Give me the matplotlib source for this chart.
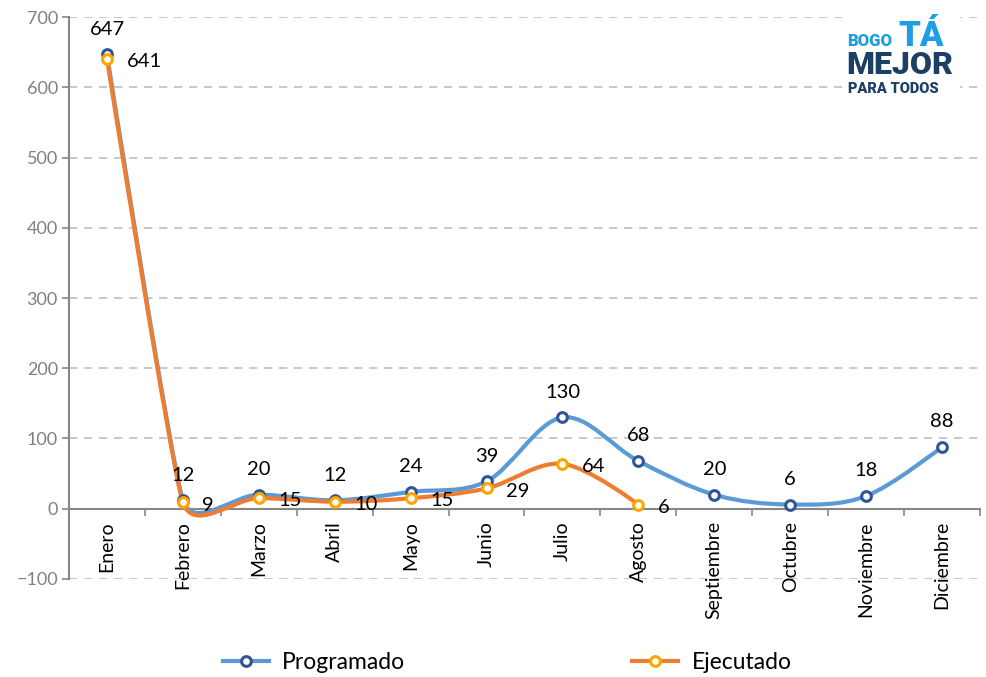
import numpy as np
import matplotlib.pyplot as plt
from matplotlib.path import Path
from matplotlib.patches import PathPatch, Rectangle
from matplotlib.lines import Line2D

plt.rcParams['font.family'] = ['Lato', 'DejaVu Sans']

# Data
meses = ['Enero', 'Febrero', 'Marzo', 'Abril', 'Mayo', 'Junio', 'Julio',
         'Agosto', 'Septiembre', 'Octubre', 'Noviembre', 'Diciembre']
programado = [647, 12, 20, 12, 24, 39, 130, 68, 20, 6, 18, 88]
ejecutado = [641, 9, 15, 10, 15, 29, 64, 6]

BLUE_LINE = '#5B9BD5'
BLUE_MARK = '#2F5597'
ORANGE_LINE = '#ED7D31'
ORANGE_MARK = '#FFA500'
GRAY = '#868686'


def smooth_path(ax, xs, ys):
    """Excel-like smoothed line as a cubic bezier path (computed in display space)"""
    pts = ax.transData.transform(np.column_stack([xs, ys]))
    n = len(pts)
    verts = [pts[0]]
    codes = [Path.MOVETO]
    for i in range(n - 1):
        p0 = pts[i - 1] if i > 0 else pts[i]
        p1 = pts[i]
        p2 = pts[i + 1]
        p3 = pts[i + 2] if i + 2 < n else pts[i + 1]
        d01 = np.linalg.norm(p1 - p0)
        d12 = np.linalg.norm(p2 - p1)
        d23 = np.linalg.norm(p3 - p2)
        # catmull-rom tangents, shortened next to a much longer neighbour segment
        f1 = min(1 / 6, 0.5 * min(d01, d12) / (d01 + d12)) if d01 > 0 else 0
        f2 = min(1 / 6, 0.5 * min(d12, d23) / (d12 + d23)) if d23 > 0 else 0
        c1 = p1 + f1 * (p2 - p0)
        c2 = p2 - f2 * (p3 - p1)
        verts += [c1, c2, p2]
        codes += [Path.CURVE4] * 3
    verts = ax.transData.inverted().transform(np.array(verts))
    return Path(verts, codes)


fig = plt.figure(figsize=(9.87, 6.77), dpi=100)
ax = fig.add_axes([0.0699, 0.1448, 0.923, 0.830])

ax.set_xlim(-0.5, len(meses) - 0.5)
ax.set_ylim(-100, 700)

x_prog = np.arange(len(programado))
x_ejec = np.arange(len(ejecutado))

for xs, ys, lc in [(x_prog, programado, BLUE_LINE), (x_ejec, ejecutado, ORANGE_LINE)]:
    patch = PathPatch(smooth_path(ax, xs, ys), facecolor='none', edgecolor=lc,
                      lw=3, capstyle='round', joinstyle='round', zorder=3)
    ax.add_patch(patch)

ax.plot(x_prog, programado, ls='none', marker='o', ms=7, mfc='white',
        mec=BLUE_MARK, mew=2.2, zorder=4)
ax.plot(x_ejec, ejecutado, ls='none', marker='o', ms=7, mfc='white',
        mec=ORANGE_MARK, mew=2.2, zorder=5)

# data labels
for x, v in zip(x_prog, programado):
    ax.annotate(str(v), (x, v), xytext=(0, 12), textcoords='offset points',
                ha='center', va='bottom', fontsize=14.5, color='black', zorder=6)
for x, v in zip(x_ejec, ejecutado):
    ax.annotate(str(v), (x, v), xytext=(14, -2), textcoords='offset points',
                ha='left', va='center', fontsize=14.5, color='black', zorder=6)

# axes styling
ax.set_yticks(np.arange(-100, 701, 100))
ax.tick_params(axis='y', colors=GRAY, labelcolor='#808080', labelsize=13,
               length=5, width=1.2, pad=3)
ax.yaxis.grid(True, ls=(0, (5, 4)), color='#BFBFBF', lw=1.2)
ax.set_axisbelow(True)

ax.spines['bottom'].set_position(('data', 0))
for s in ['top', 'right']:
    ax.spines[s].set_visible(False)
for s in ['left', 'bottom']:
    ax.spines[s].set_color(GRAY)
    ax.spines[s].set_linewidth(1.5)

ax.set_xticks(x_prog)
ax.set_xticklabels(meses, rotation=90, fontsize=14, va='top', ha='center')
ax.set_xticks(np.arange(-0.5, len(meses)), minor=True)
ax.tick_params(axis='x', which='major', length=0, pad=9, colors='black')
ax.tick_params(axis='x', which='minor', length=5, width=1.2, color=GRAY,
               direction='out')

# legend
handles = [
    Line2D([], [], color=BLUE_LINE, lw=3, marker='o', ms=7, mfc='white',
           mec=BLUE_MARK, mew=2.2),
    Line2D([], [], color=ORANGE_LINE, lw=3, marker='o', ms=7, mfc='white',
           mec=ORANGE_MARK, mew=2.2),
]
fig.legend(handles, ['Programado', 'Ejecutado'], loc='center',
           bbox_to_anchor=(0.514, 0.021), ncol=2, frameon=False, fontsize=16.5,
           handlelength=2.0, handletextpad=0.6, columnspacing=9.9)

# logo
fig.patches.append(Rectangle((0.853, 0.858), 0.12, 0.127, transform=fig.transFigure,
                             facecolor='white', edgecolor='none', zorder=5))
logo = dict(family=['Roboto', 'DejaVu Sans'], fontweight='heavy', ha='left',
            va='baseline', zorder=6)
fig.text(0.858, 0.932, 'BOGO', fontsize=12, color='#1E9FE3', **logo)
fig.text(0.910, 0.932, 'TÁ', fontsize=25, color='#1E9FE3', **logo)
fig.text(0.857, 0.891, 'MEJOR', fontsize=23, color='#1C3F66', **logo)
fig.text(0.859, 0.862, 'PARA TODOS', fontsize=10.5, color='#1C3F66', **logo)

fig.savefig('out.png', dpi=100)
